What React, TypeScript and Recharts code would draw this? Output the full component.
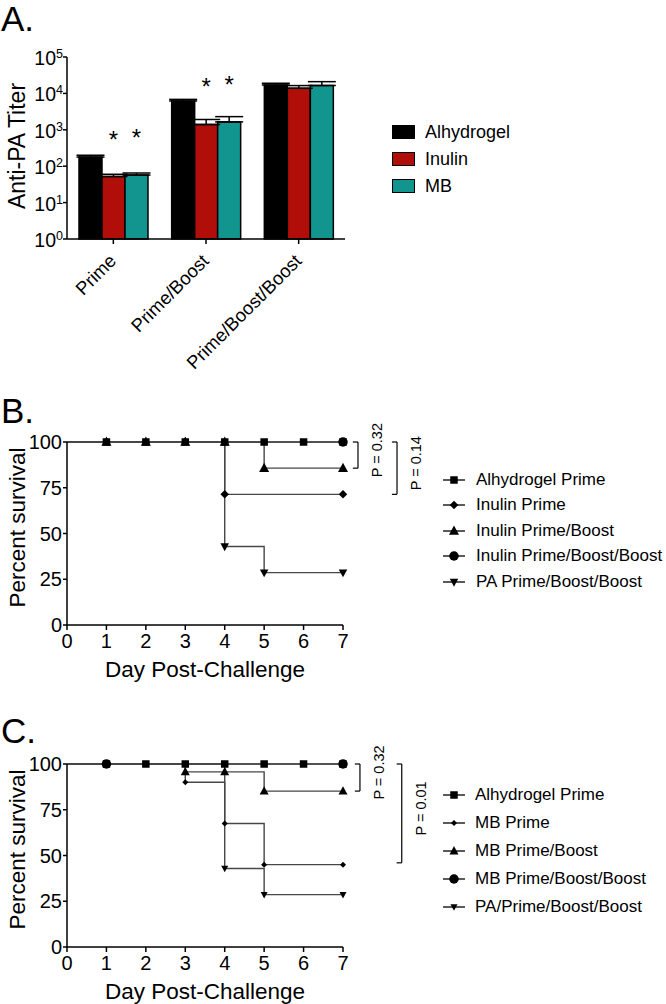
import React from "react";
import {
  Bar,
  BarChart,
  ErrorBar,
  LabelList,
  Legend,
  Line,
  LineChart,
  ReferenceLine,
  XAxis,
  YAxis,
} from "recharts";

const FONT = '"Liberation Sans", Arial, Helvetica, sans-serif';

// ---- Panel A: anti-PA titers ----
const groups = ["Prime", "Prime/Boost", "Prime/Boost/Boost"];
const alhydrogel = [178, 6200, 17000];
const inulin = [52, 1400, 13800];
const mb = [57, 1650, 16500];
const alhydrogelSem = [22, 650, 2000];
const inulinSem = [8, 520, 2600];
const mbSem = [8, 650, 4500];
const inulinStars = ["*", "*", ""];
const mbStars = ["*", "*", ""];
const titerTicks = [1, 10, 100, 1000, 10000, 100000];
const titerNames = ["Alhydrogel", "Inulin", "MB"];
const titerColors = ["#000000", "#B10E0A", "#13958F"];

// ---- Panel B: survival, inulin groups ----
const bNames = [
  "Alhydrogel Prime",
  "Inulin Prime",
  "Inulin Prime/Boost",
  "Inulin Prime/Boost/Boost",
  "PA Prime/Boost/Boost",
];
const bAlhydrogelPrimeDays = [0, 1, 2, 3, 4, 5, 6, 7];
const bAlhydrogelPrimeSurv = [100, 100, 100, 100, 100, 100, 100, 100];
const bInulinPrimeDays = [0, 4, 7];
const bInulinPrimeSurv = [100, 71.4, 71.4];
const bInulinPBDays = [0, 1, 2, 3, 4, 5, 7];
const bInulinPBSurv = [100, 100, 100, 100, 100, 85.7, 85.7];
const bInulinPBBDays = [0, 7];
const bInulinPBBSurv = [100, 100];
const bPaPBBDays = [0, 4, 5, 7];
const bPaPBBSurv = [100, 42.9, 28.6, 28.6];
const bPValues = ["P = 0.32", "P = 0.14"];
const bPSpans = [
  [100, 85.7],
  [100, 71.4],
];

// ---- Panel C: survival, MB groups ----
const cNames = [
  "Alhydrogel Prime",
  "MB Prime",
  "MB Prime/Boost",
  "MB Prime/Boost/Boost",
  "PA/Prime/Boost/Boost",
];
const cAlhydrogelPrimeDays = [0, 1, 2, 3, 4, 5, 6, 7];
const cAlhydrogelPrimeSurv = [100, 100, 100, 100, 100, 100, 100, 100];
const cMbPrimeDays = [0, 3, 4, 5, 7];
const cMbPrimeSurv = [100, 90, 67.5, 45, 45];
const cMbPBDays = [0, 3, 4, 5, 7];
const cMbPBSurv = [100, 95.7, 95.7, 85.2, 85.2];
const cMbPBBDays = [0, 1, 7];
const cMbPBBSurv = [100, 100, 100];
const cPaPBBDays = [0, 4, 5, 7];
const cPaPBBSurv = [100, 42.9, 28.6, 28.6];
const cPValues = ["P = 0.32", "P = 0.01"];
const cPSpans = [
  [100, 85.2],
  [100, 46],
];

const dayTicks = [0, 1, 2, 3, 4, 5, 6, 7];
const pctTicks = [0, 25, 50, 75, 100];

type Shape = "square" | "diamond" | "triangle" | "circle" | "triangleDown";

const toPoints = (days: number[], surv: number[]) =>
  days.map((d, i) => ({ day: d, pct: surv[i] }));

const titerData = groups.map((g, i) => ({
  group: g,
  alhydrogel: alhydrogel[i],
  inulin: inulin[i],
  mb: mb[i],
  alhydrogelErr: [0, alhydrogelSem[i]],
  inulinErr: [0, inulinSem[i]],
  mbErr: [0, mbSem[i]],
  inulinStar: inulinStars[i],
  mbStar: mbStars[i],
}));

const Marker = ({ shape, cx, cy, size }: { shape: Shape; cx: number; cy: number; size: number }) => {
  const h = size / 2;
  switch (shape) {
    case "square":
      return <rect x={cx - h} y={cy - h} width={size} height={size} fill="#000" />;
    case "circle":
      return <circle cx={cx} cy={cy} r={h} fill="#000" />;
    case "diamond":
      return <path d={`M${cx},${cy - h}L${cx + h},${cy}L${cx},${cy + h}L${cx - h},${cy}Z`} fill="#000" />;
    case "triangle":
      return (
        <path
          d={`M${cx},${cy - size * 0.55}L${cx + h},${cy + size * 0.38}L${cx - h},${cy + size * 0.38}Z`}
          fill="#000"
        />
      );
    default:
      return (
        <path
          d={`M${cx - h},${cy - size * 0.38}L${cx + h},${cy - size * 0.38}L${cx},${cy + size * 0.55}Z`}
          fill="#000"
        />
      );
  }
};

const PowerTick = ({ x, y, payload }: any) => {
  const exp = Math.round(Math.log10(payload.value));
  return (
    <text x={x} y={y + 8} textAnchor="end" fontSize={19.5} fill="#000">
      10
      <tspan dy={-7} fontSize={12.5}>
        {exp}
      </tspan>
    </text>
  );
};

const SlantTick = ({ x, y, payload }: any) => {
  const tx = x + 4;
  const ty = y + 18;
  return (
    <text x={tx} y={ty} textAnchor="end" fontSize={18.5} fill="#000" transform={`rotate(-45, ${tx}, ${ty})`}>
      {payload.value}
    </text>
  );
};

const StarLabel = ({ x, y, width, value }: any) => {
  if (!value) return null;
  return (
    <text x={x + width / 2} y={y - 29} textAnchor="middle" fontSize={24} fill="#000">
      {value}
    </text>
  );
};

const YTitle = ({ viewBox, text, size, dy }: any) => {
  const cx = 25;
  const cy = viewBox.y + viewBox.height / 2 + (dy ?? 0);
  return (
    <text x={cx} y={cy} textAnchor="middle" fontSize={size} fill="#000" transform={`rotate(-90, ${cx}, ${cy})`}>
      {text}
    </text>
  );
};

const XTitle = ({ viewBox, text }: any) => (
  <text x={viewBox.x + viewBox.width / 2} y={viewBox.y + 52} textAnchor="middle" fontSize={22.5} fill="#000">
    {text}
  </text>
);

const PLabel = ({ viewBox, text }: any) => {
  const cx = viewBox.x + 24;
  const cy = viewBox.y + viewBox.height / 2 - 5;
  return (
    <text x={cx} y={cy} textAnchor="middle" fontSize={14.5} fill="#000" transform={`rotate(-90, ${cx}, ${cy})`}>
      {text}
    </text>
  );
};

const TiterLegend = () => (
  <div style={{ fontFamily: FONT }}>
    {titerNames.map((n, i) => (
      <div key={n} style={{ display: "flex", alignItems: "center", height: 27 }}>
        <span
          style={{
            display: "inline-block",
            width: 21,
            height: 12,
            background: titerColors[i],
            border: "1px solid #000",
            marginRight: 10,
          }}
        />
        <span style={{ fontSize: 18, lineHeight: "18px" }}>{n}</span>
      </div>
    ))}
  </div>
);

const TiterChart = () => (
  <BarChart
    width={666}
    height={372}
    data={titerData}
    margin={{ top: 57, right: 321, left: 7, bottom: 0 }}
    barSize={23}
    barGap={0}
  >
    <XAxis
      dataKey="group"
      height={133}
      interval={0}
      tick={<SlantTick />}
      tickSize={5}
      tickMargin={0}
      axisLine={{ stroke: "#000", strokeWidth: 1.5 }}
      tickLine={{ stroke: "#000", strokeWidth: 1.5 }}
    />
    <YAxis
      type="number"
      scale="log"
      domain={[1, 100000]}
      ticks={titerTicks}
      width={60}
      tick={<PowerTick />}
      tickSize={4}
      tickMargin={0}
      axisLine={{ stroke: "#000", strokeWidth: 1.5 }}
      tickLine={{ stroke: "#000", strokeWidth: 1.5 }}
      label={<YTitle text="Anti-PA Titer" size={23} dy={-2} />}
    />
    <Bar dataKey="alhydrogel" name="Alhydrogel" fill={titerColors[0]} stroke="#000" strokeWidth={1.5} isAnimationActive={false}>
      <ErrorBar dataKey="alhydrogelErr" width={14} stroke="#000" strokeWidth={1.5} />
    </Bar>
    <Bar dataKey="inulin" name="Inulin" fill={titerColors[1]} stroke="#000" strokeWidth={1.5} isAnimationActive={false}>
      <ErrorBar dataKey="inulinErr" width={14} stroke="#000" strokeWidth={1.5} />
      <LabelList dataKey="inulinStar" content={<StarLabel />} />
    </Bar>
    <Bar dataKey="mb" name="MB" fill={titerColors[2]} stroke="#000" strokeWidth={1.5} isAnimationActive={false}>
      <ErrorBar dataKey="mbErr" width={14} stroke="#000" strokeWidth={1.5} />
      <LabelList dataKey="mbStar" content={<StarLabel />} />
    </Bar>
    <Legend
      layout="vertical"
      align="center"
      verticalAlign="middle"
      content={<TiterLegend />}
      wrapperStyle={{ left: 392, top: 118, width: 200 }}
    />
  </BarChart>
);

type SeriesDef = { name: string; data: { day: number; pct: number }[]; shape: Shape; size: number };

type Bracket = { text: string; span: number[]; x: number };

const SurvivalLegend = ({ series, rowH, gap }: { series: SeriesDef[]; rowH: number; gap: number }) => (
  <div style={{ fontFamily: FONT }}>
    {series.map((s) => (
      <div key={s.name} style={{ display: "flex", alignItems: "center", height: rowH }}>
        <svg width={22} height={14} style={{ marginRight: gap, overflow: "visible" }}>
          <line x1={0} y1={7} x2={22} y2={7} stroke="#000" strokeWidth={1.3} />
          <Marker shape={s.shape} cx={11} cy={7} size={s.size} />
        </svg>
        <span style={{ fontSize: 17, lineHeight: "18px", whiteSpace: "nowrap" }}>{s.name}</span>
      </div>
    ))}
  </div>
);

const SurvivalChart = ({
  series,
  brackets,
  height,
  top,
  xAxisHeight,
  legendTop,
  rowH,
  gap,
}: {
  series: SeriesDef[];
  brackets: Bracket[];
  height: number;
  top: number;
  xAxisHeight: number;
  legendTop: number;
  rowH: number;
  gap: number;
}) => (
  <LineChart width={666} height={height} margin={{ top, right: 323, left: 7, bottom: 5 }}>
    <XAxis
      type="number"
      dataKey="day"
      domain={[0, 7]}
      ticks={dayTicks}
      interval={0}
      height={xAxisHeight}
      tick={{ fontSize: 20, fill: "#000" }}
      tickSize={5}
      tickMargin={4}
      axisLine={{ stroke: "#000", strokeWidth: 1.5 }}
      tickLine={{ stroke: "#000", strokeWidth: 1.5 }}
      label={<XTitle text="Day Post-Challenge" />}
    />
    <YAxis
      type="number"
      domain={[0, 100]}
      ticks={pctTicks}
      interval={0}
      width={60}
      tick={{ fontSize: 20, fill: "#000" }}
      tickSize={4}
      tickMargin={1}
      axisLine={{ stroke: "#000", strokeWidth: 1.5 }}
      tickLine={{ stroke: "#000", strokeWidth: 1.5 }}
      label={<YTitle text="Percent survival" size={22.5} dy={-6} />}
    />
    {series.map((s) => (
      <Line
        key={s.name}
        name={s.name}
        data={s.data}
        dataKey="pct"
        type="stepAfter"
        stroke="#474747"
        strokeWidth={1.4}
        isAnimationActive={false}
        dot={(p: any) =>
          p.payload.day === 0 ? (
            <g key={`d-${s.name}-${p.index}`} />
          ) : (
            <Marker key={`d-${s.name}-${p.index}`} shape={s.shape} cx={p.cx} cy={p.cy} size={s.size} />
          )
        }
        activeDot={false}
      />
    ))}
    {brackets.map((b) => [
      <ReferenceLine
        key={`${b.text}-v`}
        segment={[
          { x: b.x, y: b.span[0] },
          { x: b.x, y: b.span[1] },
        ]}
        stroke="#000"
        strokeWidth={1.2}
        ifOverflow="visible"
        label={<PLabel text={b.text} />}
      />,
      <ReferenceLine
        key={`${b.text}-t`}
        segment={[
          { x: b.x - 0.13, y: b.span[0] },
          { x: b.x, y: b.span[0] },
        ]}
        stroke="#000"
        strokeWidth={1.2}
        ifOverflow="visible"
      />,
      <ReferenceLine
        key={`${b.text}-b`}
        segment={[
          { x: b.x - 0.13, y: b.span[1] },
          { x: b.x, y: b.span[1] },
        ]}
        stroke="#000"
        strokeWidth={1.2}
        ifOverflow="visible"
      />,
    ])}
    <Legend
      layout="vertical"
      align="center"
      verticalAlign="middle"
      content={<SurvivalLegend series={series} rowH={rowH} gap={gap} />}
      wrapperStyle={{ left: 443, top: legendTop, width: 223 }}
    />
  </LineChart>
);

const bSeries: SeriesDef[] = [
  { name: bNames[0], data: toPoints(bAlhydrogelPrimeDays, bAlhydrogelPrimeSurv), shape: "square", size: 7.5 },
  { name: bNames[1], data: toPoints(bInulinPrimeDays, bInulinPrimeSurv), shape: "diamond", size: 8.5 },
  { name: bNames[2], data: toPoints(bInulinPBDays, bInulinPBSurv), shape: "triangle", size: 10 },
  { name: bNames[3], data: toPoints(bInulinPBBDays, bInulinPBBSurv), shape: "circle", size: 9.5 },
  { name: bNames[4], data: toPoints(bPaPBBDays, bPaPBBSurv), shape: "triangleDown", size: 8.5 },
];

const cSeries: SeriesDef[] = [
  { name: cNames[0], data: toPoints(cAlhydrogelPrimeDays, cAlhydrogelPrimeSurv), shape: "square", size: 7.5 },
  { name: cNames[1], data: toPoints(cMbPrimeDays, cMbPrimeSurv), shape: "diamond", size: 6 },
  { name: cNames[2], data: toPoints(cMbPBDays, cMbPBSurv), shape: "triangle", size: 9 },
  { name: cNames[3], data: toPoints(cMbPBBDays, cMbPBBSurv), shape: "circle", size: 9.5 },
  { name: cNames[4], data: toPoints(cPaPBBDays, cPaPBBSurv), shape: "triangleDown", size: 7 },
];

const bBrackets: Bracket[] = [
  { text: bPValues[0], span: bPSpans[0], x: 7.38 },
  { text: bPValues[1], span: bPSpans[1], x: 8.37 },
];

const cBrackets: Bracket[] = [
  { text: cPValues[0], span: cPSpans[0], x: 7.43 },
  { text: cPValues[1], span: cPSpans[1], x: 8.49 },
];

const letter = (top: number): React.CSSProperties => ({
  position: "absolute",
  left: 1,
  top,
  fontSize: 35,
  lineHeight: "35px",
  zIndex: 2,
});

export default function App() {
  return (
    <div
      style={{
        position: "absolute",
        left: 0,
        top: 0,
        width: 666,
        height: 1004,
        background: "#fff",
        fontFamily: FONT,
        color: "#000",
        overflow: "hidden",
      }}
    >
      <div style={letter(1)}>A.</div>
      <div style={letter(393)}>B.</div>
      <div style={letter(713)}>C.</div>
      <div style={{ position: "absolute", left: 0, top: 0 }}>
        <TiterChart />
      </div>
      <div style={{ position: "absolute", left: 0, top: 330 }}>
        <SurvivalChart
          series={bSeries}
          brackets={bBrackets}
          height={360}
          top={112}
          xAxisHeight={60}
          legendTop={137}
          rowH={25.5}
          gap={11}
        />
      </div>
      <div style={{ position: "absolute", left: 0, top: 650 }}>
        <SurvivalChart
          series={cSeries}
          brackets={cBrackets}
          height={354}
          top={114}
          xAxisHeight={52}
          legendTop={131}
          rowH={28}
          gap={10}
        />
      </div>
    </div>
  );
}
